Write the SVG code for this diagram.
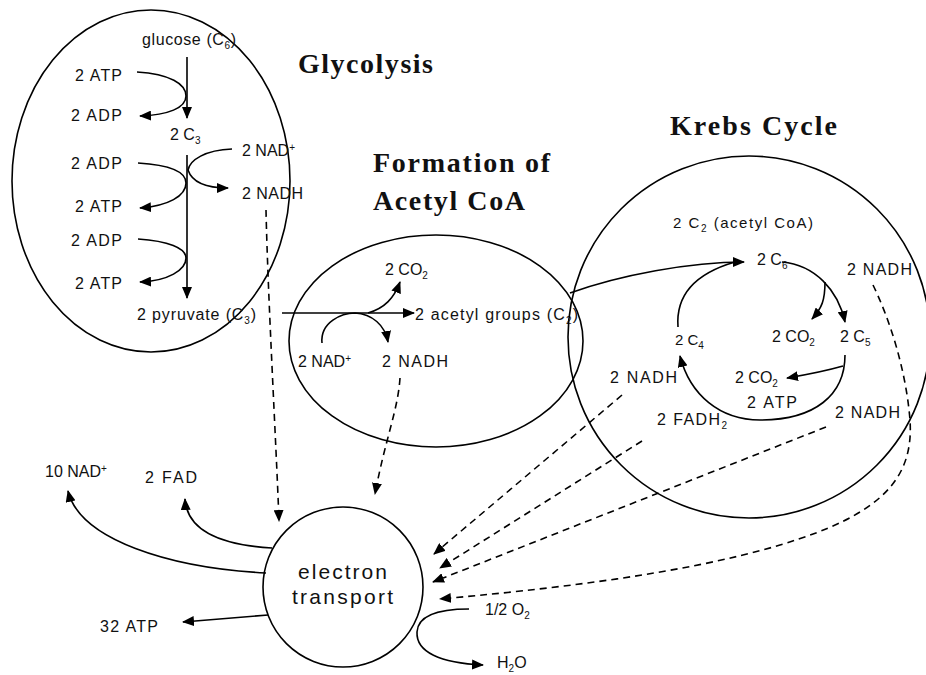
<svg xmlns="http://www.w3.org/2000/svg" width="926" height="675" viewBox="0 0 926 675">
<defs>
<marker id="ah" markerUnits="userSpaceOnUse" markerWidth="12" markerHeight="10" refX="11" refY="5" orient="auto">
<path d="M0,0 L12,5 L0,10 z" fill="#000"/>
</marker>
<style>
.lbl{font-family:"Liberation Sans",Arial,sans-serif;font-size:16px;fill:#111;}
.ttl{font-family:"Liberation Serif","Times New Roman",serif;font-size:28px;font-weight:bold;fill:#111;}
.et{font-family:"Liberation Sans",Arial,sans-serif;font-size:21px;fill:#111;}
.sb{font-size:10px;}
.shape{fill:none;stroke:#000;stroke-width:1.6;}
.ln{fill:none;stroke:#000;stroke-width:1.6;}
.arr{fill:none;stroke:#000;stroke-width:1.6;marker-end:url(#ah);}
.dash{fill:none;stroke:#000;stroke-width:1.6;stroke-dasharray:7,5;marker-end:url(#ah);}
</style>
</defs>
<rect width="926" height="675" fill="#fff"/>

<g id="glycolysis">
<ellipse class="shape" cx="151" cy="181" rx="139" ry="171"/>
<text class="ttl" x="298" y="73" textLength="135" lengthAdjust="spacing">Glycolysis</text>
<text class="lbl" x="142" y="45" textLength="94" lengthAdjust="spacing">glucose (C<tspan class="sb" dy="4">6</tspan><tspan dy="-4">)</tspan></text>
<text class="lbl" x="75" y="81" textLength="47" lengthAdjust="spacing">2 ATP</text>
<text class="lbl" x="71" y="121" textLength="51" lengthAdjust="spacing">2 ADP</text>
<text class="lbl" x="170" y="140">2 C<tspan class="sb" dy="4">3</tspan></text>
<text class="lbl" x="71" y="169" textLength="51" lengthAdjust="spacing">2 ADP</text>
<text class="lbl" x="242" y="156">2 NAD<tspan class="sb" dy="-5">+</tspan></text>
<text class="lbl" x="242" y="199" textLength="61" lengthAdjust="spacing">2 NADH</text>
<text class="lbl" x="75" y="212" textLength="47" lengthAdjust="spacing">2 ATP</text>
<text class="lbl" x="71" y="246" textLength="51" lengthAdjust="spacing">2 ADP</text>
<text class="lbl" x="75" y="289" textLength="47" lengthAdjust="spacing">2 ATP</text>
<text class="lbl" x="137" y="320" textLength="119" lengthAdjust="spacing">2 pyruvate (C<tspan class="sb" dy="4">3</tspan><tspan dy="-4">)</tspan></text>
</g>

<g id="acetyl-coa">
<ellipse class="shape" cx="436" cy="341" rx="147" ry="106"/>
<text class="ttl" x="373" y="172" textLength="177" lengthAdjust="spacing">Formation of</text>
<text class="ttl" x="373" y="210" textLength="152" lengthAdjust="spacing">Acetyl CoA</text>
<text class="lbl" x="385" y="275">2 CO<tspan class="sb" dy="4">2</tspan></text>
<text class="lbl" x="415" y="320" textLength="163" lengthAdjust="spacing">2 acetyl groups (C<tspan class="sb" dy="4">2</tspan><tspan dy="-4">)</tspan></text>
<text class="lbl" x="298" y="367">2 NAD<tspan class="sb" dy="-5">+</tspan></text>
<text class="lbl" x="382" y="367" textLength="66" lengthAdjust="spacing">2 NADH</text>
</g>

<g id="krebs-cycle">
<circle class="shape" cx="749" cy="337" r="181"/>
<text class="ttl" x="670" y="135" textLength="167" lengthAdjust="spacing">Krebs Cycle</text>
<text class="lbl" x="673" y="228" textLength="140" lengthAdjust="spacing" style="font-size:15px">2 C<tspan class="sb" dy="4">2</tspan><tspan dy="-4"> (acetyl CoA)</tspan></text>
<text class="lbl" x="757" y="265">2 C<tspan class="sb" dy="4">6</tspan></text>
<text class="lbl" x="847" y="275" textLength="65" lengthAdjust="spacing">2 NADH</text>
<text class="lbl" x="772" y="342">2 CO<tspan class="sb" dy="4">2</tspan></text>
<text class="lbl" x="840" y="342">2 C<tspan class="sb" dy="4">5</tspan></text>
<text class="lbl" x="675" y="345" style="font-size:15px">2 C<tspan class="sb" dy="4">4</tspan></text>
<text class="lbl" x="610" y="383" textLength="67" lengthAdjust="spacing">2 NADH</text>
<text class="lbl" x="735" y="383">2 CO<tspan class="sb" dy="4">2</tspan></text>
<text class="lbl" x="747" y="408" textLength="50" lengthAdjust="spacing">2 ATP</text>
<text class="lbl" x="657" y="425" textLength="70" lengthAdjust="spacing">2 FADH<tspan class="sb" dy="4">2</tspan></text>
<text class="lbl" x="835" y="418" textLength="65" lengthAdjust="spacing">2 NADH</text>
</g>

<g id="electron-transport">
<circle class="shape" cx="343" cy="587" r="80"/>
<text class="et" x="298" y="579" textLength="89" lengthAdjust="spacing">electron</text>
<text class="et" x="292" y="604" textLength="101" lengthAdjust="spacing">transport</text>
</g>

<g id="products">
<text class="lbl" x="45" y="477">10 NAD<tspan class="sb" dy="-5">+</tspan></text>
<text class="lbl" x="145" y="483" textLength="52" lengthAdjust="spacing">2 FAD</text>
<text class="lbl" x="100" y="632" textLength="58" lengthAdjust="spacing">32 ATP</text>
<text class="lbl" x="485" y="615">1/2 O<tspan class="sb" dy="4">2</tspan></text>
<text class="lbl" x="497" y="668">H<tspan class="sb" dy="4">2</tspan><tspan dy="-4">O</tspan></text>
</g>

<g id="connectors">
<path class="arr" d="M187,57 L187,118"/>
<path class="arr" d="M137,72 C170,74 186,84 186,96 C186,108 168,115 140,116"/>
<path class="arr" d="M187,155 L187,298"/>
<path class="arr" d="M232,149 C205,150 190,160 188,170 C192,182 205,188 228,188"/>
<path class="arr" d="M138,163 C170,165 186,172 186,183 C186,196 168,206 140,208"/>
<path class="arr" d="M138,239 C168,241 186,248 186,258 C186,270 168,281 140,282"/>
<path class="arr" d="M282,313 L414,313"/>
<path class="arr" d="M368,313 C385,308 394,298 400,282"/>
<path class="arr" d="M322,343 C320,322 342,313 355,313 C372,314 385,325 388,342"/>
<path class="dash" d="M266,210 C268,300 276,440 279,521"/>
<path class="dash" d="M400,378 C398,410 385,440 375,494"/>
<path class="arr" d="M570,293 C620,275 690,262 744,262"/>
<path class="ln" d="M678,327 C676,300 690,275 735,262"/>
<path class="arr" d="M782,262 C815,265 838,290 845,322"/>
<path class="arr" d="M825,282 C825,300 822,308 812,319"/>
<path class="arr" d="M845,355 C845,395 815,420 760,420 C720,420 690,395 680,356"/>
<path class="arr" d="M843,366 C822,372 805,375 787,378"/>
<path class="dash" d="M622,395 L434,554"/>
<path class="dash" d="M642,441 L440,568"/>
<path class="dash" d="M826,427 L433,582"/>
<path class="dash" d="M873,285 C890,320 906,370 910,420 C914,480 880,515 780,545 C680,575 540,590 440,599"/>
<path class="arr" d="M266,573 C170,568 80,540 68,491"/>
<path class="arr" d="M272,548 C220,545 187,530 185,499"/>
<path class="arr" d="M268,615 L183,622"/>
<path class="arr" d="M469,609 C440,609 418,614 417,632 C416,652 440,663 483,665"/>
</g>
</svg>
